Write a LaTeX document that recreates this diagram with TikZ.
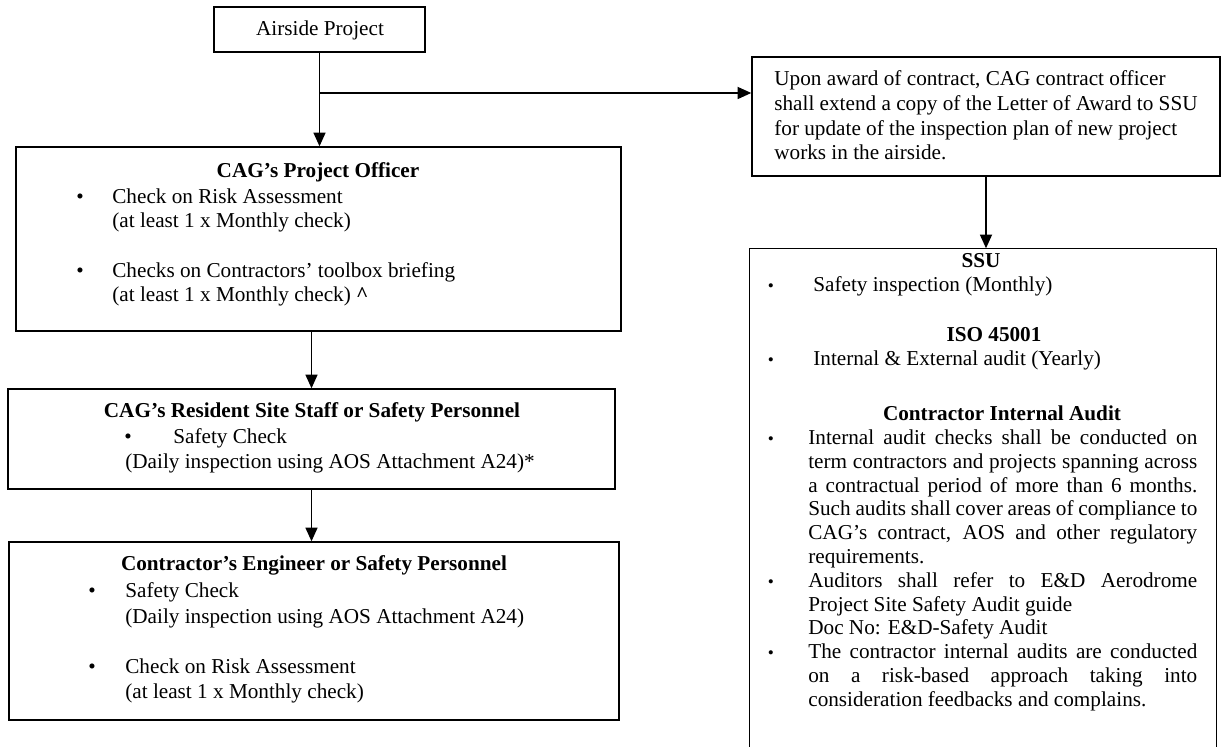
\documentclass[tikz,border=0pt]{standalone}
\usepackage{fontspec}
\setmainfont{Liberation Serif}
\usetikzlibrary{arrows.meta,fit}

\newcommand{\jstline}[1]{\makebox[225.6pt][s]{#1}}

\tikzset{
	box/.style={draw, line width=0.8pt, inner sep=0pt},
	txt/.style={anchor=base west, inner sep=0pt, font=\fontsize{12.3}{14}\selectfont},
	ctxt/.style={anchor=base, inner sep=0pt, font=\fontsize{12.3}{14}\selectfont},
	ttl/.style={anchor=base, inner sep=0pt, font=\fontsize{12.3}{14}\selectfont\bfseries},
	blt/.style={anchor=base, inner sep=0pt, font=\fontsize{12.3}{14}\selectfont},
	sblt/.style={anchor=base, inner sep=0pt, font=\fontsize{10}{12}\selectfont},
	arr/.style={line width=0.9pt, -{Triangle[length=8pt,width=7pt]}},
}

\begin{document}
\begin{tikzpicture}[x=0.58pt,y=-0.58pt]
	\useasboundingbox (0,0) rectangle (1221,747);

	% boxes
	\node[box, fit={(214,7) (425,52)}] (air) {};
	\node[box, fit={(16,147) (621,331)}] (po) {};
	\node[box, fit={(8,389) (615,489)}] (res) {};
	\node[box, fit={(9,542) (619,720)}] (con) {};
	\node[box, fit={(752,57) (1220,176)}] (upon) {};
	\node[box, draw=none, fit={(750,249) (1216,747)}] (ssu) {};
	\draw[line width=0.8pt] (ssu.south west) |- (ssu.north east) -- (ssu.south east);

	% connectors
	\coordinate (forky) at (0,93);
	\coordinate (fork) at (air.south |- forky);
	\draw[arr] (air.south) -- (air.south |- po.north);
	\draw[arr] (fork) -- (fork -| upon.west);
	\draw[arr] (upon.south) -- (upon.south |- ssu.north);
	\draw[arr] (res.north |- po.south) -- (res.north);
	\draw[arr] (res.south) -- (res.south |- con.north);

	\node[ctxt] (air-t) at (320,36) {Airside Project};

	% project officer
	\node[ttl] (po-t) at (318,178) {CAG’s Project Officer};
	\node[blt] (po-b1) at (80,204) {\textbullet};
	\node[txt] (po-l1) at (112,204) {Check on Risk Assessment};
	\node[txt] (po-l2) at (112,228) {(at least 1 x Monthly check)};
	\node[blt] (po-b2) at (80,278) {\textbullet};
	\node[txt] (po-l3) at (112,278) {Checks on Contractors’ toolbox briefing};
	\node[txt] (po-l4) at (112,302) {(at least 1 x Monthly check) \textbf{\textasciicircum}};

	% resident site staff
	\node[ttl] (res-t) at (312,418) {CAG’s Resident Site Staff or Safety Personnel};
	\node[blt] (res-b1) at (128,444) {\textbullet};
	\node[txt] (res-l1) at (173,444) {Safety Check};
	\node[txt] (res-l2) at (125,469) {(Daily inspection using AOS Attachment A24)*};

	% contractor
	\node[ttl] (con-t) at (314,571) {Contractor’s Engineer or Safety Personnel};
	\node[blt] (con-b1) at (92,598) {\textbullet};
	\node[txt] (con-l1) at (125,598) {Safety Check};
	\node[txt] (con-l2) at (125,623) {(Daily inspection using AOS Attachment A24)};
	\node[blt] (con-b2) at (92,673) {\textbullet};
	\node[txt] (con-l3) at (125,673) {Check on Risk Assessment};
	\node[txt] (con-l4) at (125,698) {(at least 1 x Monthly check)};

	% letter of award
	\node[txt] (upon-l1) at (774,85.5) {Upon award of contract, CAG contract officer};
	\node[txt] (upon-l2) at (774,110.5) {shall extend a copy of the Letter of Award to SSU};
	\node[txt] (upon-l3) at (774,135.5) {for update of the inspection plan of new project};
	\node[txt] (upon-l4) at (774,159.5) {works in the airside.};

	% SSU / ISO / audit
	\node[ttl] (ssu-t) at (981,267.5) {SSU};
	\node[sblt] (ssu-b1) at (771,291.5) {\textbullet};
	\node[txt] (ssu-l1) at (813,291.5) {Safety inspection (Monthly)};
	\node[ttl] (iso-t) at (994,341.5) {ISO 45001};
	\node[sblt] (iso-b1) at (771,365.5) {\textbullet};
	\node[txt] (iso-l1) at (813,365.5) {Internal \& External audit (Yearly)};
	\node[ttl] (aud-t) at (1002,420.5) {Contractor Internal Audit};
	\node[sblt] (aud-b1) at (771,444.5) {\textbullet};
	\node[txt] (aud-l1) at (808,444.5) {\jstline{Internal audit checks shall be conducted on}};
	\node[txt] (aud-l2) at (808,468.3) {\jstline{term contractors and projects spanning across}};
	\node[txt] (aud-l3) at (808,492.1) {\jstline{a contractual period of more than 6 months.}};
	\node[txt] (aud-l4) at (808,515.9) {\jstline{Such audits shall cover areas of compliance to}};
	\node[txt] (aud-l5) at (808,539.7) {\jstline{CAG’s contract, AOS and other regulatory}};
	\node[txt] (aud-l6) at (808,563.5) {requirements.};
	\node[sblt] (aud-b2) at (771,587.3) {\textbullet};
	\node[txt] (aud-l7) at (808,587.3) {\jstline{Auditors shall refer to E\&D Aerodrome}};
	\node[txt] (aud-l8) at (808,611.1) {Project Site Safety Audit guide};
	\node[txt] (aud-l9) at (808,634.9) {Doc No: E\&D-Safety Audit};
	\node[sblt] (aud-b3) at (771,658.7) {\textbullet};
	\node[txt] (aud-l10) at (808,658.7) {\jstline{The contractor internal audits are conducted}};
	\node[txt] (aud-l11) at (808,682.5) {\jstline{on a risk-based approach taking into}};
	\node[txt] (aud-l12) at (808,706.3) {consideration feedbacks and complains.};
\end{tikzpicture}
\end{document}
